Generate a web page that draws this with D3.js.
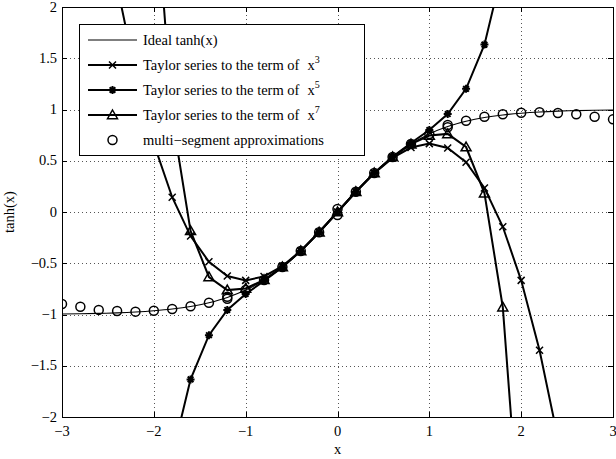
<!DOCTYPE html>
<html>
<head>
<meta charset="utf-8">
<script src="https://d3js.org/d3.v7.min.js"></script>
<style>
  body { margin: 0; background: #fff; }
  svg text { font-family: "Liberation Serif", "Times New Roman", serif; font-size: 14.5px; fill: #000; }
</style>
</head>
<body>
<div id="chart"></div>
<script>
// sample positions
const tanhX = [-3, -2.8, -2.6, -2.4, -2.2, -2, -1.8, -1.6, -1.4, -1.2, -1, -0.8, -0.6, -0.4, -0.2, 0,
               0.2, 0.4, 0.6, 0.8, 1, 1.2, 1.4, 1.6, 1.8, 2, 2.2, 2.4, 2.6, 2.8, 3];
const tanhY = [-0.995, -0.993, -0.989, -0.984, -0.976, -0.964, -0.947, -0.922, -0.885, -0.834, -0.762, -0.664, -0.537, -0.380, -0.197, 0,
               0.197, 0.380, 0.537, 0.664, 0.762, 0.834, 0.885, 0.922, 0.947, 0.964, 0.976, 0.984, 0.989, 0.993, 0.995];

const taylor3X = [-2.6, -2.4, -2.2, -2, -1.8, -1.6, -1.4, -1.2, -1, -0.8, -0.6, -0.4, -0.2, 0,
                  0.2, 0.4, 0.6, 0.8, 1, 1.2, 1.4, 1.6, 1.8, 2, 2.2, 2.4, 2.6];
const taylor3Y = [3.259, 2.208, 1.349, 0.667, 0.144, -0.235, -0.485, -0.624, -0.667, -0.629, -0.528, -0.379, -0.197, 0,
                  0.197, 0.379, 0.528, 0.629, 0.667, 0.624, 0.485, 0.235, -0.144, -0.667, -1.349, -2.208, -3.259];

const taylor5X = [-2, -1.8, -1.6, -1.4, -1.2, -1, -0.8, -0.6, -0.4, -0.2, 0,
                  0.2, 0.4, 0.6, 0.8, 1, 1.2, 1.4, 1.6, 1.8, 2];
const taylor5Y = [-3.6, -2.375, -1.633, -1.202, -0.956, -0.8, -0.673, -0.538, -0.380, -0.197, 0,
                  0.197, 0.380, 0.538, 0.673, 0.8, 0.956, 1.202, 1.633, 2.375, 3.6];

const taylor7X = [-2, -1.8, -1.6, -1.4, -1.2, -1, -0.8, -0.6, -0.4, -0.2, 0,
                  0.2, 0.4, 0.6, 0.8, 1, 1.2, 1.4, 1.6, 1.8, 2];
const taylor7Y = [3.308, 0.929, -0.184, -0.634, -0.762, -0.746, -0.662, -0.537, -0.380, -0.197, 0,
                  0.197, 0.380, 0.537, 0.662, 0.746, 0.762, 0.634, 0.184, -0.929, -3.308];

const multiX = [-3, -2.8, -2.6, -2.4, -2.2, -2, -1.8, -1.6, -1.4, -1.2, -1.2, -1, -0.8, -0.6, -0.4, -0.2, 0, 0,
                0.2, 0.4, 0.6, 0.8, 1, 1.2, 1.2, 1.4, 1.6, 1.8, 2, 2.2, 2.4, 2.6, 2.8, 3];
const multiY = [-0.898, -0.924, -0.955, -0.966, -0.972, -0.963, -0.946, -0.920, -0.886, -0.846, -0.826, -0.760, -0.664, -0.537, -0.380, -0.197, -0.03, 0.03,
                0.197, 0.380, 0.537, 0.664, 0.760, 0.826, 0.849, 0.891, 0.930, 0.953, 0.969, 0.973, 0.966, 0.953, 0.930, 0.904];

const xTicks = [-3, -2, -1, 0, 1, 2, 3];
const yTicks = [-2, -1.5, -1, -0.5, 0, 0.5, 1, 1.5, 2];

const legendLabels = ["Ideal tanh(x)", "Taylor series to the term of", "Taylor series to the term of",
                      "Taylor series to the term of", "multi\u2212segment approximations"];
const legendPowers = [null, "3", "5", "7", null];

const width = 616, height = 459;
const margin = { left: 62, right: 3, top: 7, bottom: 42 };

const x = d3.scaleLinear().domain([-3, 3]).range([margin.left, width - margin.right]);
const y = d3.scaleLinear().domain([-2, 2]).range([height - margin.bottom, margin.top]);

const svg = d3.select("#chart").append("svg")
    .attr("width", width)
    .attr("height", height);

svg.append("clipPath").attr("id", "plotclip")
  .append("rect")
    .attr("x", x(-3)).attr("y", y(2))
    .attr("width", x(3) - x(-3)).attr("height", y(-2) - y(2));

// dotted grid
const grid = svg.append("g").attr("stroke", "#555").attr("stroke-width", 1).attr("stroke-dasharray", "1,3");
grid.selectAll(".gx").data(xTicks.slice(1, -1)).join("line")
    .attr("x1", d => Math.round(x(d)) + 0.5).attr("x2", d => Math.round(x(d)) + 0.5)
    .attr("y1", y(2)).attr("y2", y(-2));
grid.selectAll(".gy").data(yTicks.slice(1, -1)).join("line")
    .attr("x1", x(-3)).attr("x2", x(3))
    .attr("y1", d => Math.round(y(d)) + 0.5).attr("y2", d => Math.round(y(d)) + 0.5);

const plot = svg.append("g").attr("clip-path", "url(#plotclip)");

const line = d3.line().x(d => x(d[0])).y(d => y(d[1]));
const zip = (a, b) => a.map((v, i) => [v, b[i]]);

// marker shapes
function drawMarker(g, kind, cx, cy) {
  if (kind === "x") {
    const s = 3.5;
    g.append("path").attr("d", `M${cx - s},${cy - s}L${cx + s},${cy + s}M${cx - s},${cy + s}L${cx + s},${cy - s}`)
      .attr("stroke", "#000").attr("stroke-width", 1.5).attr("fill", "none");
  } else if (kind === "star") {
    const s = 4;
    const d = s * 0.7071;
    g.append("path").attr("d", `M${cx - s},${cy}L${cx + s},${cy}M${cx},${cy - s}L${cx},${cy + s}` +
        `M${cx - d},${cy - d}L${cx + d},${cy + d}M${cx - d},${cy + d}L${cx + d},${cy - d}`)
      .attr("stroke", "#000").attr("stroke-width", 2).attr("fill", "none");
  } else if (kind === "tri") {
    const s = 5;
    g.append("path").attr("d", `M${cx},${cy - s}L${cx + s},${cy + s * 0.75}L${cx - s},${cy + s * 0.75}Z`)
      .attr("stroke", "#000").attr("stroke-width", 1.5).attr("fill", "none");
  } else if (kind === "circle") {
    g.append("circle").attr("cx", cx).attr("cy", cy).attr("r", 4.5)
      .attr("stroke", "#000").attr("stroke-width", 1.5).attr("fill", "none");
  }
}

// ideal tanh
plot.append("path").datum(zip(tanhX, tanhY))
    .attr("d", line.curve(d3.curveMonotoneX))
    .attr("fill", "none").attr("stroke", "#000").attr("stroke-width", 1.1);
line.curve(d3.curveLinear);

const taylorSeries = [
  { xs: taylor3X, ys: taylor3Y, marker: "x" },
  { xs: taylor5X, ys: taylor5Y, marker: "star" },
  { xs: taylor7X, ys: taylor7Y, marker: "tri" }
];

taylorSeries.forEach(s => {
  const pts = zip(s.xs, s.ys);
  plot.append("path").datum(pts)
      .attr("d", line)
      .attr("fill", "none").attr("stroke", "#000").attr("stroke-width", 2);
  const mg = plot.append("g");
  pts.filter(p => p[1] >= -2.1 && p[1] <= 2.1).forEach(p => drawMarker(mg, s.marker, x(p[0]), y(p[1])));
});

const multiG = plot.append("g");
zip(multiX, multiY).forEach(p => drawMarker(multiG, "circle", x(p[0]), y(p[1])));

// axes box with inward ticks
const axisG = svg.append("g");
axisG.append("rect")
    .attr("x", x(-3) + 0.5).attr("y", y(2) + 0.5)
    .attr("width", x(3) - x(-3)).attr("height", y(-2) - y(2))
    .attr("fill", "none").attr("stroke", "#000").attr("stroke-width", 1);

const tickLen = 5;
xTicks.forEach(t => {
  const px = Math.round(x(t)) + 0.5;
  axisG.append("line").attr("x1", px).attr("x2", px).attr("y1", y(-2)).attr("y2", y(-2) - tickLen).attr("stroke", "#000");
  axisG.append("line").attr("x1", px).attr("x2", px).attr("y1", y(2)).attr("y2", y(2) + tickLen).attr("stroke", "#000");
  axisG.append("text").attr("x", x(t)).attr("y", y(-2) + 19)
      .attr("text-anchor", "middle")
      .text(String(t).replace("-", "\u2212"));
});
yTicks.forEach(t => {
  const py = Math.round(y(t)) + 0.5;
  axisG.append("line").attr("x1", x(-3)).attr("x2", x(-3) + tickLen).attr("y1", py).attr("y2", py).attr("stroke", "#000");
  axisG.append("line").attr("x1", x(3)).attr("x2", x(3) - tickLen).attr("y1", py).attr("y2", py).attr("stroke", "#000");
  axisG.append("text").attr("x", x(-3) - 5).attr("y", y(t) + 4.5)
      .attr("text-anchor", "end")
      .text(String(t).replace("-", "\u2212"));
});

svg.append("text").attr("x", (x(-3) + x(3)) / 2).attr("y", height - 5)
    .attr("text-anchor", "middle").text("x");
svg.append("text")
    .attr("transform", `translate(14,${(y(2) + y(-2)) / 2}) rotate(-90)`)
    .attr("text-anchor", "middle").text("tanh(x)");

// legend
const legend = svg.append("g");
legend.append("rect")
    .attr("x", 79.5).attr("y", 24.5).attr("width", 285).attr("height", 131)
    .attr("fill", "#fff").attr("stroke", "#000").attr("stroke-width", 1);

const legendMarkers = [null, "x", "star", "tri", "circle"];
legendLabels.forEach((lab, i) => {
  const ry = 40 + i * 25;
  if (i < 4) {
    legend.append("line").attr("x1", 88).attr("x2", 137).attr("y1", ry).attr("y2", ry)
        .attr("stroke", "#000").attr("stroke-width", i === 0 ? 1.1 : 2);
  }
  if (legendMarkers[i]) drawMarker(legend, legendMarkers[i], 112.5, ry);
  const t = legend.append("text").attr("x", 143).attr("y", ry + 5).text(lab);
  if (legendPowers[i]) {
    t.append("tspan").attr("dx", 8).text("x");
    t.append("tspan").attr("dy", -7).attr("font-size", "10px").text(legendPowers[i]);
  }
});
</script>
</body>
</html>
